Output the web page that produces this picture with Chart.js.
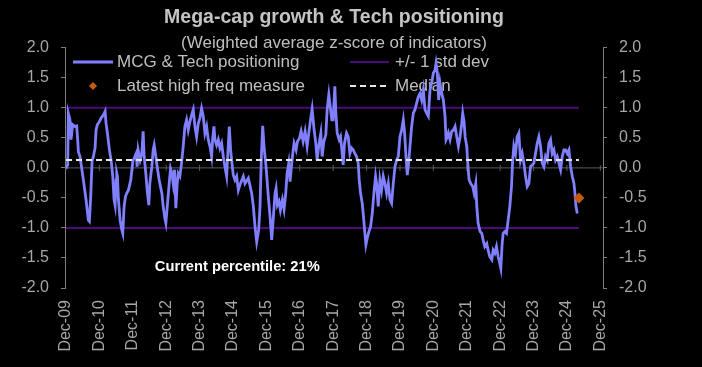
<!DOCTYPE html>
<html>
<head>
<meta charset="utf-8">
<script src="https://cdn.jsdelivr.net/npm/chart.js@4.4.1/dist/chart.umd.min.js"></script>
<style>
  html, body { margin: 0; padding: 0; background: #000; }
  #wrap { width: 702px; height: 367px; }
</style>
</head>
<body>
<div id="wrap"><canvas id="mcgChart" width="702" height="367"></canvas></div>
<script>
// tick labels, one per December, x = years since Dec-09
const tickLabels = ["Dec-09","Dec-10","Dec-11","Dec-12","Dec-13","Dec-14","Dec-15","Dec-16",
  "Dec-17","Dec-18","Dec-19","Dec-20","Dec-21","Dec-22","Dec-23","Dec-24","Dec-25"];

// MCG & Tech positioning
const timeYears = [0.00,0.02,0.05,0.07,0.12,0.15,0.20,0.27,0.32,0.35,0.37,0.42,0.52,0.60,0.67,0.70,0.74,0.78,0.82,0.87,
  0.90,0.94,1.00,1.05,1.12,1.17,1.20,1.24,1.30,1.35,1.40,1.44,1.47,1.50,1.52,1.54,1.57,1.62,1.67,1.70,
  1.74,1.78,1.82,1.87,1.94,2.00,2.04,2.10,2.13,2.16,2.22,2.27,2.31,2.34,2.39,2.43,2.48,2.51,2.57,2.61,
  2.64,2.69,2.73,2.79,2.87,2.91,2.96,2.99,3.04,3.09,3.13,3.17,3.21,3.25,3.29,3.33,3.36,3.41,3.46,3.51,
  3.56,3.61,3.66,3.71,3.76,3.81,3.86,3.91,3.96,4.01,4.06,4.11,4.16,4.21,4.26,4.31,4.36,4.39,4.43,4.46,
  4.51,4.56,4.61,4.66,4.71,4.76,4.81,4.89,4.93,4.98,5.01,5.06,5.11,5.16,5.21,5.31,5.36,5.46,5.56,5.61,
  5.66,5.71,5.77,5.81,5.85,5.89,5.93,5.99,6.05,6.11,6.16,6.21,6.26,6.29,6.33,6.38,6.42,6.48,6.53,6.58,
  6.62,6.67,6.71,6.75,6.79,6.83,6.89,6.93,6.99,7.04,7.10,7.16,7.22,7.27,7.33,7.37,7.43,7.48,7.52,7.57,
  7.63,7.67,7.72,7.78,7.82,7.87,7.90,7.96,8.00,8.05,8.08,8.12,8.18,8.22,8.26,8.30,8.34,8.40,8.45,8.50,
  8.55,8.60,8.65,8.70,8.75,8.78,8.82,8.87,8.90,8.94,8.98,9.02,9.07,9.12,9.17,9.22,9.27,9.30,9.35,9.40,
  9.45,9.50,9.55,9.60,9.65,9.70,9.75,9.80,9.85,9.90,9.95,10.00,10.05,10.10,10.14,10.18,10.22,10.26,10.30,10.35,
  10.40,10.45,10.50,10.55,10.60,10.65,10.70,10.75,10.80,10.85,10.90,10.95,11.00,11.05,11.08,11.12,11.16,11.20,11.25,11.30,
  11.35,11.38,11.42,11.45,11.50,11.55,11.60,11.65,11.70,11.75,11.80,11.85,11.88,11.92,11.95,12.00,12.03,12.07,12.12,12.18,
  12.22,12.27,12.30,12.34,12.40,12.45,12.49,12.54,12.60,12.64,12.69,12.75,12.79,12.84,12.89,12.94,12.99,13.02,13.06,13.09,
  13.14,13.19,13.24,13.29,13.34,13.37,13.41,13.46,13.51,13.56,13.61,13.66,13.71,13.76,13.81,13.86,13.91,13.96,14.01,14.06,
  14.11,14.16,14.21,14.26,14.31,14.36,14.41,14.46,14.51,14.56,14.61,14.66,14.71,14.76,14.81,14.86,14.91,14.96,15.01,15.06,
  15.11,15.16,15.21,15.24,15.27,15.31];

const mcgTech = [0.01,0.02,0.05,0.91,0.80,0.47,0.72,0.69,0.70,0.47,0.27,0.19,-0.20,-0.53,-0.87,-0.89,-0.48,0.11,0.19,0.33,
  0.63,0.72,0.77,0.83,0.88,0.94,0.74,0.58,0.30,0.13,-0.14,-0.53,-0.62,-0.20,-0.09,-0.14,-0.53,-0.87,-1.03,-1.09,
  -0.64,-0.48,-0.42,-0.37,-0.20,0.11,0.16,0.24,0.02,0.30,0.13,0.24,0.61,0.19,-0.09,-0.37,-0.62,-0.26,0.02,0.30,
  0.38,0.19,0.02,-0.20,-0.42,-0.64,-0.84,-0.92,-0.59,-0.26,-0.01,-0.09,-0.26,-0.03,-0.67,-0.26,-0.09,-0.14,0.08,0.36,
  0.69,0.80,0.63,0.77,0.88,0.97,0.69,0.52,0.74,0.83,0.99,0.86,0.58,0.69,0.47,0.36,0.19,0.47,0.69,0.47,
  0.38,0.47,0.33,0.41,0.19,0.02,-0.14,0.69,0.30,0.02,-0.12,-0.20,-0.14,-0.37,-0.28,-0.14,-0.26,-0.17,-0.42,-0.64,
  -0.98,-1.23,-1.03,-0.64,0.19,0.70,0.36,0.02,-0.42,-0.81,-1.20,-0.81,-0.42,-0.34,-0.62,-0.56,-0.70,-0.53,-0.69,-0.42,
  -0.09,0.08,-0.23,0.02,0.24,0.41,0.30,0.44,0.49,0.61,0.44,0.61,0.36,0.58,0.83,0.98,0.63,0.41,0.13,0.38,
  0.58,0.19,0.44,0.55,0.97,1.22,1.08,0.80,0.80,1.36,0.93,0.58,0.47,0.52,0.30,0.05,0.41,0.58,0.52,0.24,
  0.33,0.30,0.24,0.19,0.08,-0.20,-0.42,-0.59,-0.76,-1.03,-1.28,-1.17,-1.06,-0.98,-0.76,-0.42,-0.14,-0.26,-0.64,-0.20,
  -0.37,-0.14,-0.26,-0.42,-0.26,-0.53,-0.59,-0.26,0.02,0.13,0.19,0.52,0.63,0.80,0.58,0.19,-0.12,0.08,0.36,0.69,
  0.91,0.97,1.08,1.19,1.24,1.13,1.30,0.97,0.91,0.86,1.30,1.41,1.58,1.63,1.74,1.58,1.13,1.41,1.24,1.13,
  0.86,0.47,0.52,0.58,0.47,0.61,0.63,0.69,0.52,0.36,0.52,0.74,0.91,0.77,0.52,0.36,0.08,-0.20,-0.26,-0.31,
  -0.42,-0.26,-0.64,-0.92,-1.06,-1.09,-1.20,-1.31,-1.26,-1.37,-1.48,-1.53,-1.37,-1.42,-1.31,-1.48,-1.59,-1.67,-1.26,-1.09,
  -1.06,-1.09,-0.87,-0.64,-0.31,0.08,0.36,0.24,0.52,0.58,0.13,0.24,0.08,-0.14,-0.31,-0.26,0.02,0.05,0.08,0.24,
  0.41,0.52,0.36,0.08,0.02,0.19,0.13,0.41,0.47,0.24,0.30,0.13,0.19,0.08,-0.03,0.19,0.30,0.30,0.24,0.30,
  0.02,-0.14,-0.26,-0.42,-0.64,-0.76];

const stdDev = [1, -1];
const medianValue = 0.13;
const latestTime = 15.36;
const latestValue = -0.5;

const legendLabels = ["MCG & Tech positioning", "+/- 1 std dev", "Latest high freq measure", "Median"];
const percentileText = "Current percentile: 21%";

const FONT = '"Liberation Sans", Arial, sans-serif';
const C_LINE = '#8080ff';
const C_STD = '#4b0a80';
const C_MED = '#e6e6e6';
const C_LATEST = '#c65a11';
const C_TEXT = '#bfbfbf';
const C_TICK = '#a6a6a6';
const C_AXIS = '#7f7f7f';
const C_ZERO = '#5c5c5c';

const X_MIN = -0.03, X_MAX = 16.08;

Chart.defaults.font.family = FONT;

const firstT = timeYears[0];
const flatLine = (v) => [{ x: firstT, y: v }, { x: latestTime, y: v }];

// legend drawn under the data, inside the plot, 2 x 2
const overlayPlugin = {
  id: 'overlay',
  beforeDatasetsDraw(chart) {
    const ctx = chart.ctx;
    ctx.save();
    ctx.font = '17px ' + FONT;
    ctx.textBaseline = 'middle';
    ctx.fillStyle = C_TEXT;

    // row 1
    ctx.strokeStyle = C_LINE; ctx.lineWidth = 3;
    ctx.beginPath(); ctx.moveTo(73, 62); ctx.lineTo(113, 62); ctx.stroke();
    ctx.fillText(legendLabels[0], 117, 62);
    ctx.strokeStyle = C_STD; ctx.lineWidth = 2;
    ctx.beginPath(); ctx.moveTo(350, 62); ctx.lineTo(389, 62); ctx.stroke();
    ctx.fillText(legendLabels[1], 395, 62);

    // row 2
    ctx.fillStyle = C_LATEST;
    ctx.beginPath();
    ctx.moveTo(93, 82); ctx.lineTo(97, 86); ctx.lineTo(93, 90); ctx.lineTo(89, 86);
    ctx.closePath(); ctx.fill();
    ctx.fillStyle = C_TEXT;
    ctx.fillText(legendLabels[2], 117, 86);
    ctx.strokeStyle = C_MED; ctx.lineWidth = 2; ctx.setLineDash([6, 4]);
    ctx.beginPath(); ctx.moveTo(350, 86); ctx.lineTo(390, 86); ctx.stroke();
    ctx.setLineDash([]);
    ctx.fillText(legendLabels[3], 395, 86);
    ctx.restore();
  },
  afterDatasetsDraw(chart) {
    const ctx = chart.ctx;
    const x = chart.scales.x.getPixelForValue(2.66);
    const y = chart.scales.y.getPixelForValue(-1.65);
    ctx.save();
    ctx.font = 'bold 14.7px ' + FONT;
    ctx.fillStyle = '#ffffff';
    ctx.textBaseline = 'middle';
    ctx.fillText(percentileText, x, y);
    ctx.restore();
  }
};

const yearTicks = (scale) => { scale.ticks = tickLabels.map((_, i) => ({ value: i })); };

const yAxis = (pos, w) => ({
  type: 'linear',
  position: pos,
  min: -2, max: 2,
  ticks: { stepSize: 0.5, color: C_TICK, font: { size: 16 }, padding: 12,
    callback: (v) => Number(v).toFixed(1) },
  grid: { drawOnChartArea: false, color: C_AXIS, tickLength: 4 },
  border: { color: C_AXIS, width: 1 },
  afterFit(s) { s.width = w; }
});

new Chart(document.getElementById('mcgChart'), {
  type: 'line',
  data: {
    datasets: [
      { label: 'Latest high freq measure', type: 'scatter', data: [{ x: latestTime, y: latestValue }],
        pointStyle: 'rectRot', pointRadius: 5.5, backgroundColor: C_LATEST, borderColor: C_LATEST, borderWidth: 0 },
      { label: 'Median', data: flatLine(medianValue), borderColor: C_MED, borderWidth: 2,
        borderDash: [6, 4], pointRadius: 0 },
      { label: 'MCG & Tech positioning', data: timeYears.map((t, i) => ({ x: t, y: mcgTech[i] })),
        borderColor: C_LINE, borderWidth: 2.8, pointRadius: 0, tension: 0 },
      { label: '+1 std dev', data: flatLine(stdDev[0]), borderColor: C_STD, borderWidth: 2, pointRadius: 0 },
      { label: '-1 std dev', data: flatLine(stdDev[1]), borderColor: C_STD, borderWidth: 2, pointRadius: 0 },
      // horizontal category axis crossing at zero, with a tick mark at each December
      { label: 'zero axis', data: [{ x: X_MIN, y: 0 }, { x: X_MAX, y: 0 }],
        borderColor: C_ZERO, borderWidth: 1, pointRadius: 0 },
      { label: 'zero ticks', type: 'scatter', data: tickLabels.map((_, i) => ({ x: i, y: 0 })),
        pointStyle: 'line', rotation: 90, pointRadius: 3, borderColor: C_ZERO, borderWidth: 1 }
    ]
  },
  options: {
    responsive: false,
    animation: false,
    layout: { padding: 0 },
    plugins: {
      legend: { display: false },
      tooltip: { enabled: false },
      title: {
        display: true, fullSize: false,
        text: 'Mega-cap growth & Tech positioning',
        color: '#c4c4c4',
        font: { size: 19.5, weight: 'bold' },
        padding: { top: 6, bottom: 4 }
      },
      subtitle: {
        display: true, fullSize: false,
        text: '(Weighted average z-score of indicators)',
        color: C_TEXT,
        font: { size: 17 },
        padding: { top: 0, bottom: -6 }
      }
    },
    scales: {
      x: {
        type: 'linear', position: 'bottom', min: X_MIN, max: X_MAX,
        afterBuildTicks: yearTicks,
        ticks: { autoSkip: false, minRotation: 90, maxRotation: 90, padding: 12,
          color: C_TICK, font: { size: 16 },
          callback: (v, i) => tickLabels[i] },
        grid: { display: false, drawTicks: false },
        border: { display: false },
        afterFit(s) { s.height = 79; }
      },
      y: yAxis('left', 65),
      yR: yAxis('right', 99)
    }
  },
  plugins: [overlayPlugin]
});
</script>
</body>
</html>
